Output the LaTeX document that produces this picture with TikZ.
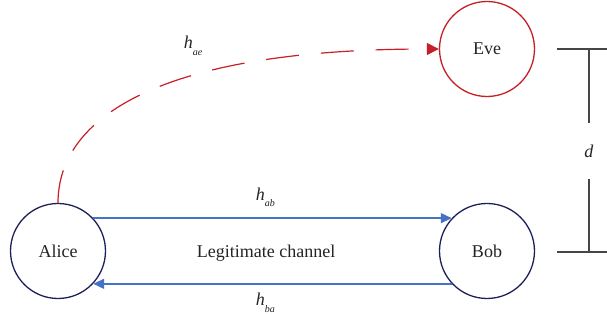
\documentclass[tikz,border=0pt]{standalone}
\usepackage{fontspec}
\setmainfont{Liberation Serif}
\usetikzlibrary{arrows.meta}
\definecolor{evered}{RGB}{200,30,38}
\definecolor{chanblue}{RGB}{68,114,196}
\definecolor{usernavy}{RGB}{30,32,90}
\definecolor{dimgray}{RGB}{70,70,70}
\definecolor{labelgray}{RGB}{35,35,35}
\newcommand{\chan}[1]{\textit{h}\raisebox{-0.8ex}{\fontsize{5}{6}\selectfont\textit{#1}}}

\begin{document}
\begin{tikzpicture}[x=0.5pt, y=-0.5pt, font=\fontsize{9}{11}\selectfont, text=labelgray,
	user/.style={circle, draw=usernavy, line width=0.65pt, minimum size=47.5pt, inner sep=0pt},
	link/.style={draw=chanblue, line width=0.75pt, -{Triangle[length=5.5pt,width=5pt]}},
	dimline/.style={dimgray, line width=0.6pt}]
	\useasboundingbox (0,0) rectangle (607,320);
	
	% Users
	\node[user] (alice) at (58,251) {Alice};
	\node[user] (bob) at (487,251) {Bob};
	\node[user, draw=evered] (eve) at (487,49) {Eve};
	
	% Legitimate channel, both ways
	\draw[link] (alice.43) -- (bob.137) node[pos=0.48, above=2pt, text=labelgray] (hab) {\chan{ab}};
	\draw[link] (bob.-137) -- (alice.-43) node[pos=0.52, below=1pt, text=labelgray] (hba) {\chan{ba}};
	\node (legit) at (266,253) {Legitimate channel};
	
	% Eavesdropping link
	\draw[draw=evered, line width=0.6pt, dash pattern=on 16.5pt off 11pt, -{Triangle[length=6pt,width=6pt]}]
		(alice.north) .. controls +(0,-85) and +(-280,0) .. (eve.west);
	\node (hae) at (193,46) {\chan{ae}};
	
	% Distance d
	\coordinate (dtopl) at (557,49);
	\coordinate (dtopr) at (607,49);
	\coordinate (dbotl) at (557,252);
	\coordinate (dbotr) at (607,252);
	\coordinate (dtop) at (589,49);
	\coordinate (dbot) at (589,252);
	\node[minimum height=27.5pt, inner sep=0pt] (dlab) at (589,151) {\textit{d}};
	\draw[dimline] (dtopl) -- (dtopr);
	\draw[dimline] (dbotl) -- (dbotr);
	\draw[dimline] (dtop) -- (dlab);
	\draw[dimline] (dlab) -- (dbot);
\end{tikzpicture}
\end{document}
